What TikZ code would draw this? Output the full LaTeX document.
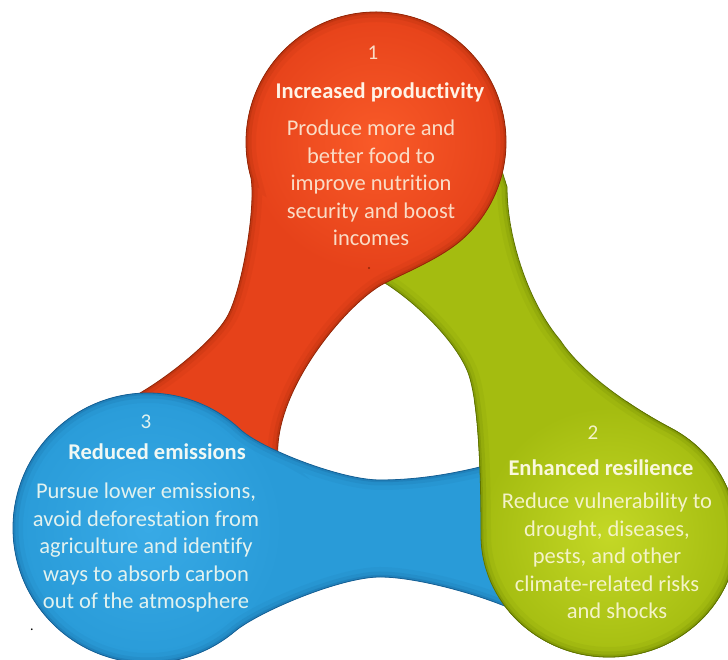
\documentclass[tikz,border=0pt]{standalone}
\usepackage{fontspec}
\setmainfont{Carlito}[Ligatures=NoCommon]
\begin{document}
% Blob outlines (1 unit = 1pt, y pointing up)
\newcommand{\RedBlob}{(251.03,482.17) .. controls (256,452) and (242,369) .. (227,343)
  .. controls (212,317) and (163,279) .. (133,263) -- (115,240) -- (276,188) -- (278,200)
  .. controls (272,270) and (350,360) .. (385,377)
  .. controls (407,388) and (443,403) .. (462.99,421.39)
  arc[start angle=-48, end angle=196, radius=130] -- cycle}
\newcommand{\GreenBlob}{(372,385) -- (385,377) .. controls (415,358) and (453,322) .. (467,290)
  .. controls (479,262) and (481,186) .. (481,125)
  arc[start angle=180, end angle=421, x radius=128, y radius=122]
  .. controls (640,248) and (585,282) .. (560,320)
  .. controls (530,355) and (507,420) .. (507,473) -- (500,495) -- cycle}
\newcommand{\BlueBlob}{(240.07,230.73) .. controls (260,212) and (340,180) .. (380,180)
  .. controls (420,180) and (455,187) .. (480,193) -- (508,198) -- (522,46)
  .. controls (492,62) and (420,83) .. (380,83)
  .. controls (340,83) and (257.8,47.9) .. (234.78,28.58)
  arc[start angle=-50, end angle=-313, radius=135] -- cycle}
% Glossy fill: base colour, light centre, darker inner rim, thin outline
\newcommand{\PaintBlob}[6]{%
  \begin{scope}
    \clip #1;
    \fill[#2] #1;
    \shade[inner color=#3, outer color=#2] #5 circle[radius=#6];
    \draw[#4, line width=20, opacity=.08] #1;
    \draw[#4, line width=11, opacity=.14] #1;
    \draw[#4, line width=4.5, opacity=.26] #1;
  \end{scope}
  \draw[#4, line width=.8] #1;
}
\begin{tikzpicture}[x=1pt, y=1pt,
  numtxt/.style={inner sep=0, font=\fontsize{21}{25}\selectfont},
  titletxt/.style={inner sep=0, font=\bfseries\fontsize{22.5}{27}\selectfont},
  bodytxt/.style={inner sep=0, align=center, font=\fontsize{22.5}{27.5}\selectfont}]
\definecolor{redbase}{HTML}{E6421A}
\definecolor{redlight}{HTML}{F95A28}
\definecolor{reddark}{HTML}{922607}
\definecolor{greenbase}{HTML}{A4BC10}
\definecolor{greenlight}{HTML}{C4D826}
\definecolor{greendark}{HTML}{5E7300}
\definecolor{bluebase}{HTML}{299BD8}
\definecolor{bluelight}{HTML}{38AAE6}
\definecolor{bluedark}{HTML}{155F94}
\definecolor{redtitle}{HTML}{FFF3E6}
\definecolor{redbody}{HTML}{FADCC6}
\definecolor{greentitle}{HTML}{FAF8DC}
\definecolor{greenbody}{HTML}{F4F3C8}
\definecolor{bluetitle}{HTML}{F0F8F4}
\definecolor{bluebody}{HTML}{E2F2EF}

\fill[white] (0,0) rectangle (728,660);
\useasboundingbox (0,0) rectangle (728,660);

% each arm runs under the next head: green, red, blue, then green's head again
\PaintBlob{\GreenBlob}{greenbase}{greenlight}{greendark}{(609,125)}{128}
\PaintBlob{\RedBlob}{redbase}{redlight}{reddark}{(376,518)}{130}
\PaintBlob{\BlueBlob}{bluebase}{bluelight}{bluedark}{(148,132)}{135}
\begin{scope}
  \clip (0,0) rectangle (728,258);
  \PaintBlob{\GreenBlob}{greenbase}{greenlight}{greendark}{(609,125)}{128}
\end{scope}

\fill[reddark] (369,392) circle[radius=1.2];

% texts
\node[numtxt, text=redbody] (n1) at (373,607) {1};
\node[titletxt, text=redtitle] (t1) at (380,568) {Increased productivity};
\node[bodytxt, text=redbody] (b1) at (371,477) {Produce more and\\better food to\\improve nutrition\\security and boost\\incomes};

\node[numtxt, text=greenbody] (n2) at (593,227) {2};
\node[titletxt, text=greentitle] (t2) at (601,192) {Enhanced resilience};
\node[bodytxt, text=greenbody] (b2) at (607,104) {Reduce vulnerability to\\drought, diseases,\\pests, and other\\climate-related risks\\\hspace*{20pt}and shocks};

\node[numtxt, text=bluebody] (n3) at (146,238) {3};
\node[titletxt, text=bluetitle] (t3) at (157,208) {Reduced emissions};
\node[bodytxt, text=bluebody] (b3) at (146,112) {Pursue lower emissions,\\avoid deforestation from\\agriculture and identify\\ways to absorb carbon\\out of the atmosphere};

\node[inner sep=0, font=\fontsize{14}{14}\selectfont] (dot) at (32,30) {.};
\end{tikzpicture}
\end{document}
